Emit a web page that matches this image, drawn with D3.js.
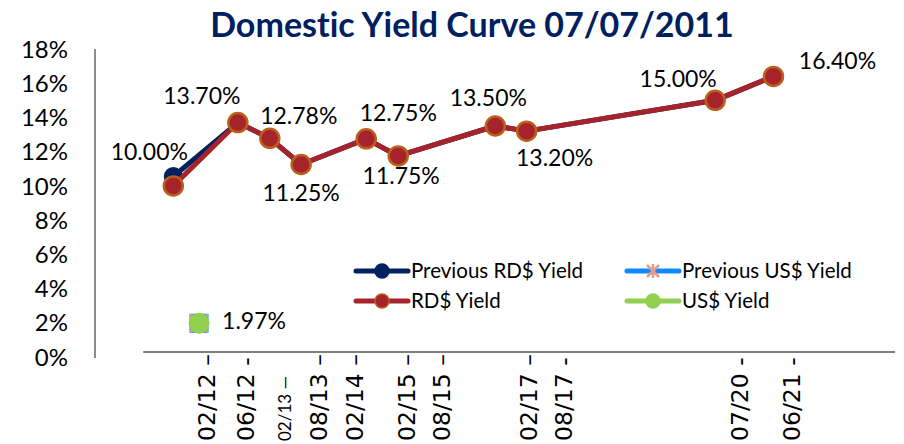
<!DOCTYPE html>
<html>
<head>
<meta charset="utf-8">
<script src="https://cdn.jsdelivr.net/npm/d3@7"></script>
<style>
  html, body { margin: 0; padding: 0; background: #fff; }
  svg { display: block; }
  text { font-variant-ligatures: none; font-feature-settings: "liga" 0; }
</style>
</head>
<body>
<svg id="chart" width="904" height="444"></svg>
<script>
// Term to maturity (years) for each bond on the curve
const termYears = [0.48, 1.51, 2.02, 2.52, 3.56, 4.07, 5.62, 6.12, 9.13, 10.06];
// Yields in percent
const rdYield = [10.00, 13.70, 12.78, 11.25, 12.75, 11.75, 13.50, 13.20, 15.00, 16.40];
const prevRdYield = [10.55, 13.70, 12.78, 11.25, 12.75, 11.75, 13.50, 13.20, 15.00, 16.40];
const usTerm = [0.89];
const usYield = [1.97];
const prevUsYield = [1.97];

// Maturity labels along the horizontal axis
const tickTerms = [1.03, 1.64, 2.28, 2.81, 3.39, 4.22, 4.77, 6.16, 6.73, 9.54, 10.36];
const tickLabels = ["02/12 –", "06/12 -", "02/13 —", "08/13 –", "02/14 –", "02/15 –", "08/15 –", "02/17 –", "08/17 -", "07/20 -", "06/21 -"];
const yTicks = [0, 2, 4, 6, 8, 10, 12, 14, 16, 18];

// Label placement relative to each point
const rdLabelOffsets = [[-24, -34], [-36, -27], [29, -23], [0, 28], [32, -26], [3, 20], [-7, -28], [28, 27], [-37, -22], [64, -16]];
const usLabelOffset = [55, -3];

const svg = d3.select("#chart");
const x = d3.scaleLinear().domain([-0.77, 12]).range([95, 895]);
const y = d3.scaleLinear().domain([0, 18]).range([357, 49]);

const NAVY = "#002060", RED = "#a6232b", RED_EDGE = "#b8601c", BLUE = "#1188ff", GREEN = "#92d050", PINK = "#e59a8e";

// Title
svg.append("text")
  .attr("x", 472).attr("y", 37)
  .attr("text-anchor", "middle")
  .style("font-family", "Lato")
  .style("font-weight", "bold")
  .style("font-size", "34px")
  .style("fill", NAVY)
  .text("Domestic Yield Curve 07/07/2011");

// Vertical axis line and percentage labels
svg.append("line")
  .attr("x1", x(-0.77)).attr("x2", x(-0.77))
  .attr("y1", y(18)).attr("y2", y(0) + 1)
  .style("stroke", "#8c8c8c").style("stroke-width", 2);

svg.append("g").selectAll("text").data(yTicks).join("text")
  .attr("x", 68).attr("y", d => y(d))
  .attr("dy", "0.36em")
  .attr("text-anchor", "end")
  .style("font-family", "Lato")
  .style("font-size", "24px")
  .style("fill", "#000")
  .text(d => d + "%");

// Horizontal axis line
const axisY = y(0) - 5;
svg.append("line")
  .attr("x1", x(0)).attr("x2", x(12))
  .attr("y1", axisY).attr("y2", axisY)
  .style("stroke", "#808080").style("stroke-width", 2);

// Rotated maturity labels (the trailing dash marks the tick)
svg.append("g").selectAll("text").data(tickLabels).join("text")
  .attr("transform", (d, i) => `translate(${x(tickTerms[i])},441) rotate(-90)`)
  .attr("dy", (d, i) => i === 2 ? "0.3em" : "0.32em")
  .attr("text-anchor", "start")
  .style("font-family", (d, i) => i === 2 ? "Lato" : "DejaVu Sans")
  .style("font-size", (d, i) => i === 2 ? "17px" : "23.5px")
  .style("fill", "#000")
  .text(d => d);

// Series lines
const line = d3.line().x(d => x(d[0])).y(d => y(d[1]));
const prevPts = termYears.map((t, i) => [t, prevRdYield[i]]);
const rdPts = termYears.map((t, i) => [t, rdYield[i]]);

svg.append("path").datum(prevPts).attr("d", line)
  .style("fill", "none").style("stroke", NAVY).style("stroke-width", 5)
  .style("stroke-linejoin", "round");
svg.append("g").selectAll("circle").data(prevPts).join("circle")
  .attr("cx", d => x(d[0])).attr("cy", d => y(d[1])).attr("r", 9.5)
  .style("fill", NAVY);

svg.append("path").datum(rdPts).attr("d", line)
  .style("fill", "none").style("stroke", RED).style("stroke-width", 5)
  .style("stroke-linejoin", "round");
svg.append("g").selectAll("circle").data(rdPts).join("circle")
  .attr("cx", d => x(d[0])).attr("cy", d => y(d[1])).attr("r", 9.5)
  .style("fill", RED).style("stroke", RED_EDGE).style("stroke-width", 2.5);

// US$ points: previous (square with cross) behind current (green dot)
const usPrev = usTerm.map((t, i) => [t, prevUsYield[i]]);
const usCur = usTerm.map((t, i) => [t, usYield[i]]);
const sq = svg.append("g").selectAll("g").data(usPrev).join("g")
  .attr("transform", d => `translate(${x(d[0])},${y(d[1])})`);
sq.append("rect").attr("x", -9).attr("y", -9).attr("width", 18).attr("height", 18)
  .style("fill", "#c9a6b8").style("stroke", BLUE).style("stroke-width", 1);
sq.append("path").attr("d", "M-9,-9L9,9M9,-9L-9,9")
  .style("stroke", PINK).style("stroke-width", 2);
svg.append("g").selectAll("circle").data(usCur).join("circle")
  .attr("cx", d => x(d[0])).attr("cy", d => y(d[1])).attr("r", 10.5)
  .style("fill", GREEN);

// Data labels
const labelStyle = sel => sel.style("font-family", "Lato").style("font-size", "23px")
  .style("fill", "#000").attr("text-anchor", "middle").attr("dy", "0.36em");
svg.append("g").selectAll("text").data(rdPts).join("text")
  .attr("x", (d, i) => x(d[0]) + rdLabelOffsets[i][0])
  .attr("y", (d, i) => y(d[1]) + rdLabelOffsets[i][1])
  .call(labelStyle)
  .text(d => d[1].toFixed(2) + "%");
svg.append("g").selectAll("text").data(usCur).join("text")
  .attr("x", d => x(d[0]) + usLabelOffset[0])
  .attr("y", d => y(d[1]) + usLabelOffset[1])
  .call(labelStyle)
  .text(d => d[1].toFixed(2) + "%");

// Legend
const legendItems = [
  { name: "Previous RD$ Yield", color: NAVY, marker: "dot", fill: NAVY, edge: NAVY },
  { name: "Previous US$ Yield", color: BLUE, marker: "star" },
  { name: "RD$ Yield", color: RED, marker: "dot", fill: RED, edge: RED_EDGE },
  { name: "US$ Yield", color: GREEN, marker: "dot", fill: GREEN, edge: GREEN }
];
const legend = svg.append("g").selectAll("g").data(legendItems).join("g")
  .attr("transform", (d, i) => `translate(${i % 2 === 0 ? 356 : 627},${i < 2 ? 271 : 301})`);
legend.append("line").attr("x1", 0).attr("x2", 52).attr("y1", 0).attr("y2", 0)
  .style("stroke", d => d.color).style("stroke-width", 5).style("stroke-linecap", "round");
legend.filter(d => d.marker === "dot").append("circle")
  .attr("cx", 26).attr("cy", 0).attr("r", 7)
  .style("fill", d => d.fill).style("stroke", d => d.edge).style("stroke-width", 1.5);
legend.filter(d => d.marker === "star").append("path")
  .attr("d", "M20,-6L32,6M32,-6L20,6M26,-7L26,7")
  .style("stroke", PINK).style("stroke-width", 2.5);
legend.append("text")
  .attr("x", 55).attr("y", 0).attr("dy", "0.35em")
  .style("font-family", "Lato").style("font-size", "20.5px").style("fill", "#000")
  .text(d => d.name);
</script>
</body>
</html>
